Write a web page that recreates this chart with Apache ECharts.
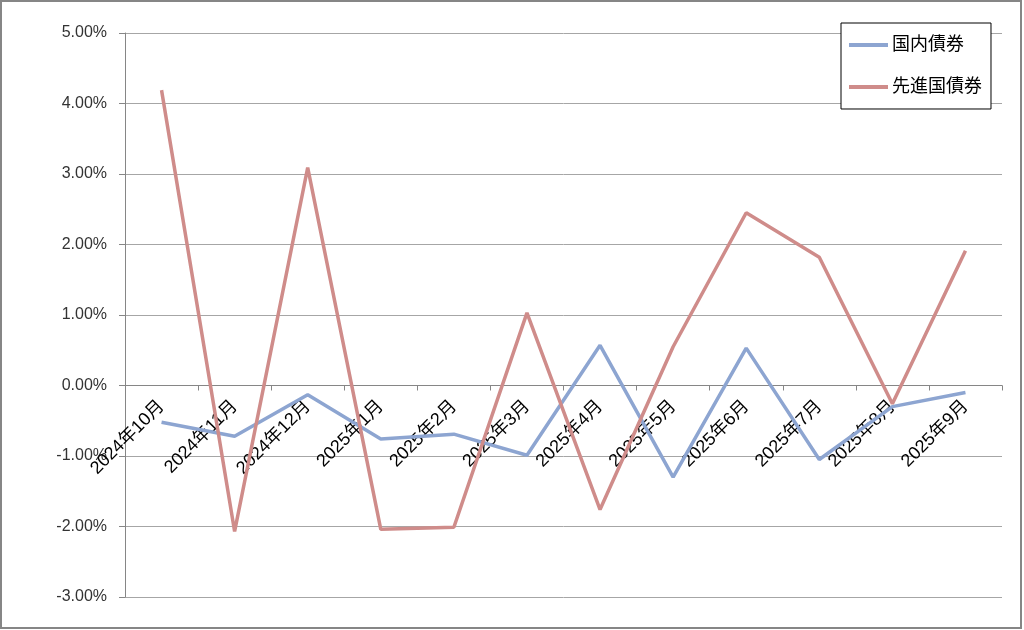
<!DOCTYPE html>
<html>
<head>
<meta charset="utf-8">
<script src="https://cdn.jsdelivr.net/npm/echarts@6/dist/echarts.min.js"></script>
<style>
html,body{margin:0;padding:0;background:#fff;}
#chart{width:1024px;height:630px;}
</style>
</head>
<body>
<div id="chart"></div>
<script>
const categories = ['2024年10月','2024年11月','2024年12月','2025年1月','2025年2月','2025年3月','2025年4月','2025年5月','2025年6月','2025年7月','2025年8月','2025年9月'];
const domesticBonds = [-0.52, -0.72, -0.13, -0.76, -0.69, -0.99, 0.57, -1.30, 0.53, -1.05, -0.30, -0.10];
const developedBonds = [4.19, -2.07, 3.09, -2.04, -2.01, 1.03, -1.76, 0.55, 2.45, 1.82, -0.26, 1.91];
const seriesNames = ['国内債券', '先進国債券'];
const yTicks = {min: -3, max: 5, interval: 1};

const gridTop = 33, gridBottom = 33, H = 630;
const plotH = H - gridTop - gridBottom;
const zeroOffset = -plotH * (0 - yTicks.min) / (yTicks.max - yTicks.min);

const chart = echarts.init(document.getElementById('chart'));
const fontFam = '"Liberation Sans", "Noto Sans CJK JP", sans-serif';
chart.setOption({
  animation: false,
  backgroundColor: '#fff',
  graphic: [{
    type: 'rect', silent: true, z: 100,
    shape: {x: 1, y: 1, width: 1020, height: 627},
    style: {fill: 'none', stroke: '#868686', lineWidth: 2}
  }],
  grid: {left: 125, right: 22, top: gridTop, bottom: gridBottom, containLabel: false, outerBoundsMode: 'none'},
  legend: {
    orient: 'vertical',
    left: 841, top: 23,
    padding: [13, 9, 13, 8],
    itemGap: 24,
    itemWidth: 39, itemHeight: 4,
    borderColor: '#000', borderWidth: 1,
    backgroundColor: '#fff',
    icon: 'rect',
    textStyle: {fontSize: 18, color: '#000', fontFamily: fontFam, padding: [0, 0, 0, -1]},
    data: seriesNames
  },
  xAxis: {
    type: 'category',
    data: categories,
    boundaryGap: true,
    offset: zeroOffset,
    axisLine: {onZero: false, lineStyle: {color: '#868686', width: 1}},
    axisTick: {show: true, length: 5, lineStyle: {color: '#868686'}},
    axisLabel: {rotate: 45, interval: 0, margin: 18, fontSize: 18, color: '#000', fontFamily: fontFam},
    splitLine: {show: false}
  },
  yAxis: {
    type: 'value',
    min: yTicks.min, max: yTicks.max, interval: yTicks.interval,
    axisLine: {show: true, lineStyle: {color: '#868686'}},
    axisTick: {show: true, length: 6, lineStyle: {color: '#868686'}},
    axisLabel: {formatter: v => v.toFixed(2) + '%', fontSize: 16, color: '#333', margin: 18, fontFamily: fontFam},
    splitLine: {show: true, lineStyle: {color: '#a6a6a6', width: 1}}
  },
  series: [
    {name: seriesNames[0], type: 'line', data: domesticBonds, symbol: 'none',
     lineStyle: {width: 3.5, color: '#8DA5D1'}, itemStyle: {color: '#8DA5D1'}},
    {name: seriesNames[1], type: 'line', data: developedBonds, symbol: 'none',
     lineStyle: {width: 3.5, color: '#CF8C8A'}, itemStyle: {color: '#CF8C8A'}}
  ]
});
</script>
</body>
</html>
